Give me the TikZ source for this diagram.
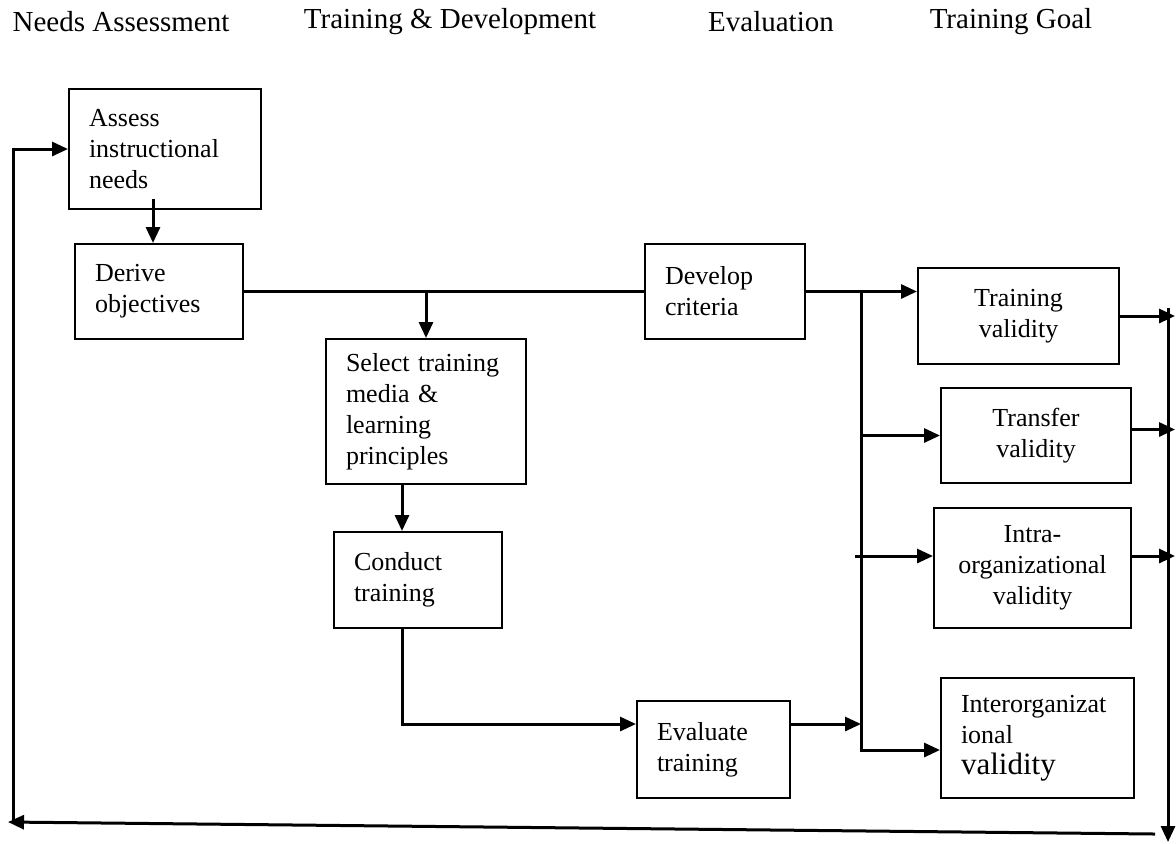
\documentclass[tikz,border=0pt]{standalone}
\usepackage{fontspec}
\setmainfont{Liberation Serif}
\usetikzlibrary{arrows.meta,positioning}

\begin{document}
\begin{tikzpicture}[x=0.5pt,y=-0.5pt]
  % Styles
  \tikzstyle{stage}=[draw,line width=1pt,anchor=north west,align=left,inner xsep=10pt,inner ysep=0pt,font=\fontsize{13}{15.5}\selectfont]
  \tikzstyle{goal}=[stage,align=center]
  \tikzstyle{heading}=[font=\fontsize{14.5}{17}\selectfont]
  \tikzstyle{link}=[line width=1.5pt]
  \tikzstyle{flow}=[link,-{Triangle[length=8pt,width=7pt]}]

  \useasboundingbox (0,0) rectangle (1176,843);

  % Column headings
  \node[heading] (needs) at (121,22) {Needs Assessment};
  \node[heading] (develop head) at (450,22) {Training \& Development};
  \node[heading] (eval head) at (771,22) {Evaluation};
  \node[heading] (goal head) at (1011,22) {Training Goal};

  % The boxes
  \node[stage,text width=76pt,minimum height=60pt] (assess) at (68,88) {Assess\\instructional\\needs};
  \node[stage,text width=64pt,minimum height=47.5pt] (derive) at (74,243) {Derive\\objectives};
  \node[stage,text width=60pt,minimum height=47.5pt] (criteria) at (644,243) {Develop\\criteria};
  \node[stage,text width=80pt,minimum height=72.5pt] (select) at (325,338) {Select training\\media \&\\learning\\principles};
  \node[stage,text width=64pt,minimum height=48pt] (conduct) at (333,531) {Conduct\\training};
  \node[stage,text width=56.5pt,minimum height=48.5pt] (evaluate) at (636,700) {Evaluate\\training};

  \node[goal,text width=80.5pt,minimum height=48pt] (tvalid) at (917,267) {Training\\validity};
  \node[goal,text width=75pt,minimum height=47.5pt] (transfer) at (940,387) {Transfer\\validity};
  \node[goal,text width=78.5pt,minimum height=60pt] (intra) at (933,507) {Intra-\\organizational\\validity};
  \node[stage,text width=76.5pt,minimum height=60pt] (inter) at (940,677) {Interorganizat\\ional\\\fontsize{15.5}{18}\selectfont validity};

  % Free ends
  \coordinate (a2d) at ([xshift=-6pt,yshift=5.5pt]assess.south);
  \coordinate (drop) at ([xshift=-8pt]conduct.north);
  \coordinate (eval in) at ([yshift=12.75pt]evaluate.west);
  \coordinate (eval out) at ([yshift=12.75pt]evaluate.east);
  \coordinate (bus) at (861,290.5);
  \coordinate (intra in) at ([yshift=6pt]intra.west);
  \coordinate (inter in) at ([yshift=-6pt]inter.west);
  \coordinate (transfer out) at ([yshift=3pt]transfer.east);
  \coordinate (intra out) at ([yshift=6pt]intra.east);
  \coordinate (ret) at (1168,308);
  \coordinate (ret tip) at (1175,308);
  \coordinate (ret end) at (1168,842);
  \coordinate (foot) at (1155,834);
  \coordinate (back) at (8,822);
  \coordinate (loop) at (13,822);

  % Design and delivery
  \draw[flow] (a2d) -- (a2d |- derive.north);
  \draw[link] (derive.east) -- (criteria.west);
  \draw[flow] (select.north |- derive.east) -- (select.north);
  \draw[flow] (drop |- select.south) -- (drop);
  \draw[flow] (drop |- conduct.south) |- (eval in);

  % Evaluation to goals
  \draw[flow] (criteria.east) -- (criteria.east -| tvalid.west);
  \draw[flow] (eval out) -- (bus |- eval out);
  \draw[flow] (bus) |- (inter in);
  \draw[flow] (bus |- transfer.west) -- (transfer.west);
  \draw[flow] ([xshift=-3pt]bus |- intra in) -- (intra in);

  % Feedback
  \draw[flow] (tvalid.east) -- (tvalid.east -| ret tip);
  \draw[flow] (transfer out) -- (transfer out -| ret tip);
  \draw[flow] (intra out) -- (intra out -| ret tip);
  \draw[flow] (ret) -- (ret end);
  \draw[flow] (foot) -- (back);
  \draw[flow] (loop) |- (assess.west);
\end{tikzpicture}
\end{document}
